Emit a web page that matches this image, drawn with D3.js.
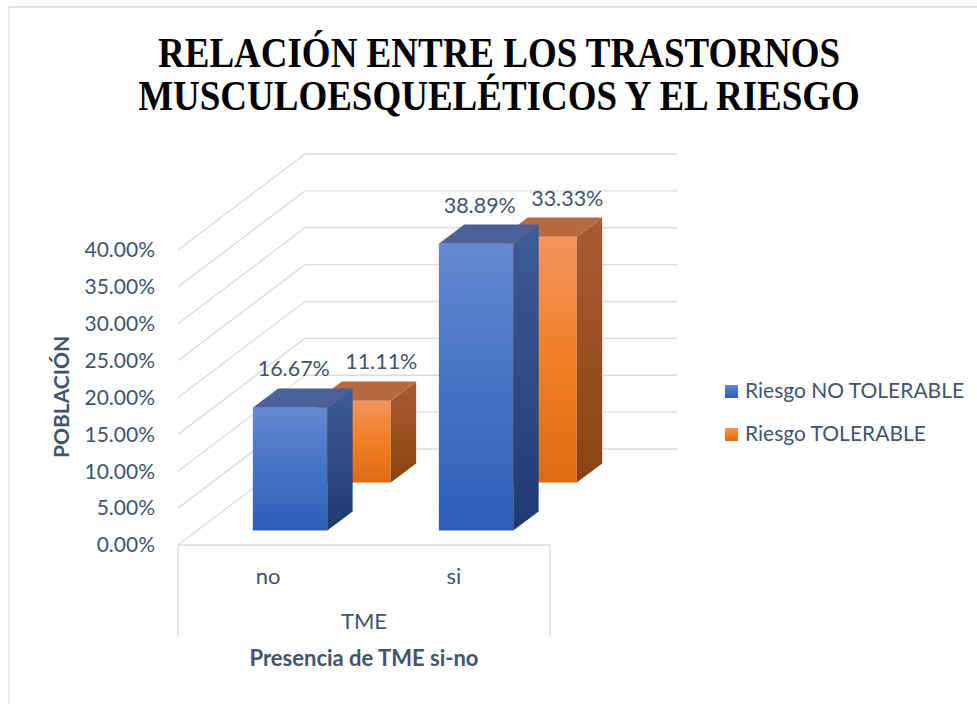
<!DOCTYPE html>
<html>
<head>
<meta charset="utf-8">
<script src="https://cdn.jsdelivr.net/npm/d3@7"></script>
<style>
  body { margin: 0; background: #fff; }
  svg { display: block; }
</style>
</head>
<body>
<svg id="chart" width="977" height="704"></svg>
<script>
// chart values
const categories = ['no', 'si'];
const seriesNames = ['Riesgo NO TOLERABLE', 'Riesgo TOLERABLE'];
const noTolerable = [0.1667, 0.3889];
const tolerable = [0.1111, 0.3333];
const yTicks = [0, 0.05, 0.1, 0.15, 0.2, 0.25, 0.3, 0.35, 0.4];
const titleLines = ['RELACIÓN ENTRE LOS TRASTORNOS', 'MUSCULOESQUELÉTICOS Y EL RIESGO'];
const groupLabel = 'TME';
const xTitle = 'Presencia de TME si-no';
const yTitle = 'POBLACIÓN';

const TEXT = '#44546a';
const GRID = '#d9dce1';
const FONT = 'Lato, "Open Sans", sans-serif';
const ORIGIN = { x: 178, y: 545 };
const PLOT_W = 372;
const PLOT_H = 295;
const DEPTH = { dx: 127, dy: -96 };

const palette = [
  { front: ['#6787d0', '#4472c4', '#2e5db7'], side: ['#3d5b95', '#1e3a72'], top: '#4b6197' },
  { front: ['#f2965f', '#f07f26', '#e06a14'], side: ['#a85c31', '#8a4311'], top: '#b86a3f' },
];

const rows = seriesNames.map((name, i) => ({
  name,
  values: categories.map((c, j) => ({ cat: c, value: [noTolerable, tolerable][i][j] })),
}));

const svg = d3.select('#chart');
const fmt = d3.format('.2%');

const x = d3.scaleBand().domain(categories).range([0, PLOT_W]);
const y = d3.scaleLinear().domain([0, 0.4]).range([0, PLOT_H]);
const z = d3.scaleBand().domain(seriesNames).range([0, 1]);

// 3d -> screen
const project = (px, v, d) => [ORIGIN.x + px + d * DEPTH.dx, ORIGIN.y - y(v) + d * DEPTH.dy];
const poly = (pts) => 'M' + pts.map((p) => project(...p).join(',')).join('L') + 'Z';

// outer chart border
svg.append('path')
  .attr('d', 'M9,704V7H977')
  .attr('fill', 'none')
  .attr('stroke', GRID)
  .attr('stroke-width', 1.3);

// gradients
const defs = svg.append('defs');
palette.forEach((p, i) => {
  const gf = defs.append('linearGradient').attr('id', `front${i}`)
    .attr('x1', 0).attr('y1', 0).attr('x2', 0).attr('y2', 1);
  gf.selectAll('stop').data(p.front).enter().append('stop')
    .attr('offset', (d, k) => k / (p.front.length - 1))
    .attr('stop-color', (d) => d);
  const gs = defs.append('linearGradient').attr('id', `side${i}`)
    .attr('x1', 0).attr('y1', 0).attr('x2', 0).attr('y2', 1);
  gs.selectAll('stop').data(p.side).enter().append('stop')
    .attr('offset', (d, k) => k)
    .attr('stop-color', (d) => d);
});

// title
svg.append('text')
  .attr('transform', 'translate(499,0) scale(1,1.12)')
  .attr('text-anchor', 'middle')
  .attr('font-family', '"Liberation Serif", "Times New Roman", serif')
  .attr('font-weight', 'bold')
  .attr('font-size', 37)
  .attr('fill', '#000')
  .selectAll('tspan')
  .data(titleLines)
  .enter()
  .append('tspan')
  .attr('x', 0)
  .attr('y', (d, i) => (i === 0 ? 60 : 98))
  .text((d) => d);

// walls
const grid = svg.append('g').attr('stroke', GRID).attr('stroke-width', 1.3).attr('fill', 'none');
grid.selectAll('.back')
  .data(yTicks)
  .enter()
  .append('path')
  .attr('d', (t) => `M${project(0, t, 1)}L${project(PLOT_W, t, 1)}`);
grid.selectAll('.side')
  .data(yTicks)
  .enter()
  .append('path')
  .attr('d', (t) => `M${project(0, t, 0)}L${project(0, t, 1)}`);
// category axis box
grid.append('path')
  .attr('d', `M${ORIGIN.x},${ORIGIN.y + 92}V${ORIGIN.y}H${ORIGIN.x + PLOT_W}V${ORIGIN.y + 92}`);

// y tick labels
svg.append('g')
  .selectAll('text')
  .data(yTicks)
  .enter()
  .append('text')
  .attr('x', 155)
  .attr('y', (t) => ORIGIN.y - y(t))
  .attr('dy', '0.35em')
  .attr('text-anchor', 'end')
  .attr('font-family', FONT)
  .attr('font-size', 21)
  .attr('fill', TEXT)
  .text((t) => fmt(t));

// bars: back row first
const barW = x.bandwidth() * 0.4;
const barD = 0.2;
const bars = svg.append('g');
rows.slice().reverse().forEach((row) => {
  const si = seriesNames.indexOf(row.name);
  const zc = z(row.name) + z.bandwidth() / 2;
  const d0 = zc - barD / 2;
  const d1 = zc + barD / 2;
  const g = bars.append('g');
  row.values.forEach((r) => {
    const x0 = x(r.cat) + (x.bandwidth() - barW) / 2;
    const x1 = x0 + barW;
    const v = r.value;
    g.append('path').attr('d', poly([[x0, 0, d0], [x1, 0, d0], [x1, v, d0], [x0, v, d0]]))
      .attr('fill', `url(#front${si})`);
    g.append('path').attr('d', poly([[x1, 0, d0], [x1, 0, d1], [x1, v, d1], [x1, v, d0]]))
      .attr('fill', `url(#side${si})`);
    g.append('path').attr('d', poly([[x0, v, d0], [x1, v, d0], [x1, v, d1], [x0, v, d1]]))
      .attr('fill', palette[si].top);
  });
});

// data labels
const labelShift = [-9, 15];
rows.forEach((row, si) => {
  const zc = z(row.name) + z.bandwidth() / 2;
  svg.append('g')
    .selectAll('text')
    .data(row.values)
    .enter()
    .append('text')
    .attr('x', (r) => project(x(r.cat) + x.bandwidth() / 2, r.value, zc)[0] + labelShift[si])
    .attr('y', (r) => project(0, r.value, zc + barD / 2)[1] - 12)
    .attr('text-anchor', 'middle')
    .attr('font-family', FONT)
    .attr('font-size', 21.5)
    .attr('fill', TEXT)
    .text((r) => fmt(r.value));
});

// category labels
svg.append('g')
  .selectAll('text')
  .data(categories)
  .enter()
  .append('text')
  .attr('x', (c) => ORIGIN.x + x(c) + x.bandwidth() / 2 - 3)
  .attr('y', 584)
  .attr('text-anchor', 'middle')
  .attr('font-family', FONT)
  .attr('font-size', 22)
  .attr('fill', TEXT)
  .text((c) => c);

svg.append('text')
  .attr('x', ORIGIN.x + PLOT_W / 2)
  .attr('y', 629)
  .attr('text-anchor', 'middle')
  .attr('font-family', FONT)
  .attr('font-size', 22)
  .attr('fill', TEXT)
  .text(groupLabel);

svg.append('text')
  .attr('x', ORIGIN.x + PLOT_W / 2)
  .attr('y', 666)
  .attr('text-anchor', 'middle')
  .attr('font-family', FONT)
  .attr('font-weight', 'bold')
  .attr('font-size', 22)
  .attr('fill', TEXT)
  .text(xTitle);

svg.append('text')
  .attr('transform', 'translate(69,397) rotate(-90)')
  .attr('text-anchor', 'middle')
  .attr('font-family', FONT)
  .attr('font-weight', 'bold')
  .attr('font-size', 21)
  .attr('fill', TEXT)
  .text(yTitle);

// legend
const legend = svg.append('g')
  .selectAll('g')
  .data(seriesNames)
  .enter()
  .append('g')
  .attr('transform', (d, i) => `translate(725,${385 + i * 43})`);
legend.append('rect')
  .attr('width', 13)
  .attr('height', 13)
  .attr('fill', (d, i) => `url(#front${i})`);
legend.append('text')
  .attr('x', 20)
  .attr('y', 13)
  .attr('font-family', FONT)
  .attr('font-size', 21)
  .attr('fill', TEXT)
  .text((d) => d);
</script>
</body>
</html>
